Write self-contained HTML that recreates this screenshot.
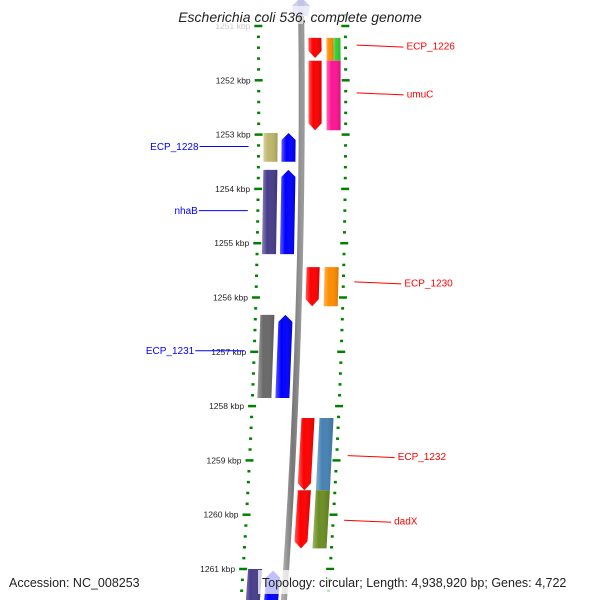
<!DOCTYPE html>
<html><head><meta charset="utf-8"><style>body{margin:0;background:#fff}svg{display:block}</style></head>
<body>
<svg id="map" width="600" height="600" viewBox="0 0 600 600" xmlns="http://www.w3.org/2000/svg" font-family="Liberation Sans, DejaVu Sans, sans-serif">
<defs>
<linearGradient id="shade" x1="0" x2="1" y1="0" y2="0">
<stop offset="0" stop-color="#fff" stop-opacity="0.35"/><stop offset="0.35" stop-color="#fff" stop-opacity="0"/><stop offset="1" stop-color="#000" stop-opacity="0.15"/>
</linearGradient>
<linearGradient id="bb" x1="0" x2="1"><stop offset="0" stop-color="#aaa"/><stop offset="0.5" stop-color="#777"/><stop offset="1" stop-color="#999"/></linearGradient>
</defs>
<g id="layer"></g>
</svg>
<script>
// genes: start kbp, end kbp, track offset (px from backbone), strand (1 = down-arrow, -1 = up-arrow, 0 = box), colour
const geneStart = [1251.22, 1251.64, 1251.22, 1251.22, 1251.64, 1252.97, 1252.97, 1253.65, 1253.65, 1255.44, 1255.44, 1256.32, 1256.32, 1258.22, 1258.22, 1259.55, 1259.55, 1261.0, 1261.03];
const geneEnd   = [1251.59, 1252.92, 1251.64, 1251.64, 1252.92, 1253.50, 1253.50, 1255.20, 1255.20, 1256.16, 1256.16, 1257.85, 1257.85, 1259.55, 1259.55, 1260.62, 1260.62, 1262.0, 1262.0];
const geneTrack = ["r1","r1","r2a","r2b","r2","l1","l2","l1","l2","r1","r2","l1","l2","r1","r2","r1","r2","l1","l2"];
const geneStrand= [1,1,0,0,0,0,-1,0,-1,1,0,0,-1,1,0,1,0,0,-1];
const geneColor = ["#ff0000","#ff0000","#ff8c00","#32cd32","#ff1493","#bdb76b","#0000ff","#483d8b","#0000ff","#ff0000","#ff8c00","#696969","#0000ff","#ff0000","#4682b4","#ff0000","#6b8e23","#483d8b","#0000ff"];
const labelText = ["ECP_1226","umuC","ECP_1228","nhaB","ECP_1230","ECP_1231","ECP_1232","dadX"];
const labelKbp  = [1251.37, 1252.25, 1253.22, 1254.40, 1255.73, 1256.98, 1258.93, 1260.12];
const labelSide = [1,1,-1,-1,1,-1,1,1];
const tickKbp = [1251,1252,1253,1254,1255,1256,1257,1258,1259,1260,1261];

const NS="http://www.w3.org/2000/svg", g=document.getElementById('layer');
const Y=k=>26+(k-1251)*54.3;
const BX=y=>301.7-Math.pow(y-100,2)/14120;
const TR={l1:[-38,-24],l2:[-20,-6],r1:[7,20],r2:[25,39],r2a:[25,32],r2b:[32,39]};
function el(t,a,p){const e=document.createElementNS(NS,t);for(const k in a)e.setAttribute(k,a[k]);(p||g).appendChild(e);return e;}

// tick rings
[-43,44].forEach((off,si)=>{
  for(let k=1250.8;k<=1262.2;k+=0.2){
    const kk=Math.round(k*10)/10, y=Y(kk); if(y<-5||y>605)continue;
    const major=Math.abs(kk-Math.round(kk))<0.01, x=BX(y)+off;
    const t=el('line',{x1:x-(major?4:1.5),x2:x+(major?4:1.5),y1:y,y2:y,stroke:'#008000','stroke-width':2.5});
    
    
  }
});
tickKbp.forEach(k=>{
  const y=Y(k), x=BX(y)-51;
  const t=el('text',{x:x,y:y+3,'font-size':8.5,'text-anchor':'end',fill:k===1251?'#ccc':'#222'});
  t.textContent=k+' kbp';
  
  
});

// backbone
let d='';for(let y=-5;y<=605;y+=10)d+=(y<0?'M':'L')+BX(y).toFixed(1)+' '+y;
const bb=el('path',{d:d,stroke:'url(#bb)','stroke-width':6,fill:'none'});


const tip=el('polygon',{points:'292,6 301,-3 310,6 308,16 294,16',fill:'#c8c8f0',opacity:0.9});



// genes
geneStart.forEach((s,i)=>{
  const y1=Y(s), y2=Y(geneEnd[i]), o=TR[geneTrack[i]];
  const a1=BX(y1)+o[0], b1=BX(y1)+o[1], a2=BX(y2)+o[0], b2=BX(y2)+o[1], st=geneStrand[i], h=7;
  let pts;
  if(st===1) pts=[[a1,y1],[b1,y1],[b2,y2-h],[(a2+b2)/2,y2],[a2,y2-h]];
  else if(st===-1) pts=[[(a1+b1)/2,y1],[b1,y1+h],[b2,y2],[a2,y2],[a1,y1+h]];
  else pts=[[a1,y1],[b1,y1],[b2,y2],[a2,y2]];
  const p=pts.map(q=>q[0].toFixed(1)+','+q[1].toFixed(1)).join(' ');
  const gg=el('g',{});
  
  
  el('polygon',{points:p,fill:geneColor[i]},gg);
  el('polygon',{points:p,fill:'url(#shade)'},gg);
});

// labels
labelText.forEach((t,i)=>{
  const y=Y(labelKbp[i]), side=labelSide[i], col=side>0?'#ff0000':'#0000ff';
  let x1,x2,tx,anchor;
  if(side>0){x1=BX(y)+55;x2=x1+47;tx=x2+3;anchor='start';}
  else{x2=BX(y)-53;x1=x2-49;tx=x1-1;anchor='end';}
  const ln=el('line',{x1:x1,x2:x2,y1:y-(side>0?1:0),y2:y+(side>0?1:0),stroke:col,'stroke-width':1});
  
  
  const tt=el('text',{x:tx,y:y+3.5,'font-size':10,fill:col,'text-anchor':anchor});
  tt.textContent=t;
  
  
});

// title & footer
const tb=el('rect',{x:160,y:6,width:280,height:18,fill:'#fff',opacity:0.6});


const ti=el('text',{x:300,y:22,'font-size':14,'font-style':'italic','text-anchor':'middle',fill:'#222'});
ti.textContent='Escherichia coli 536, complete genome';


const fb=el('rect',{x:258,y:570,width:338,height:24,fill:'#fff',opacity:0.75});


const ac=el('text',{x:9,y:587,'font-size':12.5,fill:'#222'});
ac.textContent='Accession: NC_008253';


const tp=el('text',{x:262,y:587,'font-size':12.5,fill:'#222'});
tp.textContent='Topology: circular; Length: 4,938,920 bp; Genes: 4,722';


</script>
</body></html>
